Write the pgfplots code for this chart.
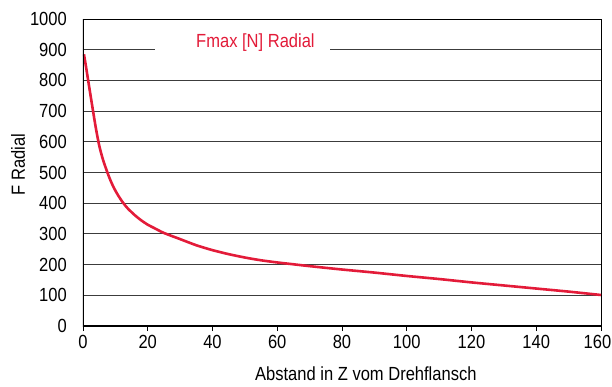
\documentclass[border=0pt]{standalone}
\usepackage{pgfplots}
\pgfplotsset{compat=1.18}
\usepackage{fontspec}
\setmainfont{Liberation Sans}[FakeStretch=0.87]
\definecolor{fred}{RGB}{227,27,57}
\definecolor{gridc}{RGB}{60,60,60}
\begin{document}
\begin{tikzpicture}
\begin{axis}[
  scale only axis,
  width=518bp, height=307bp,
  xmin=0, xmax=160, ymin=0, ymax=1000,
  xtick={0,20,...,160},
  xticklabels={0,20,40,60,80,100,120,140,\hspace*{-7bp}160},
  ytick={0,100,...,1000},
  /pgf/number format/assume math mode=true,
  /pgf/number format/1000 sep={},
  font=\fontsize{19bp}{22bp}\selectfont,
  tick label style={font=\fontsize{19bp}{22bp}\selectfont},
  ymajorgrids, grid style={gridc, line width=0.8bp},
  axis line style={black, line width=0.8bp},
  tick pos=left,
  tick align=outside, major tick length=5bp,
  xtick style={black, line width=0.8bp},
  ytick style={draw=none},
  yticklabel style={anchor=east, inner sep=0pt, xshift=-11bp},
  xticklabel style={anchor=north, inner sep=0pt, yshift=-4bp},
  xlabel={Abstand in Z vom Drehflansch},
  ylabel={F Radial},
  xlabel style={at={(rel axis cs:0.546,-0.156)}, anchor=center, inner sep=0pt},
  ylabel style={at={(rel axis cs:-0.1255,0.526)}, anchor=center, inner sep=0pt},
  legend style={at={(rel axis cs:0.139,0.926)}, anchor=west, draw=none, fill=white,
    inner xsep=0pt, inner ysep=3bp, font=\fontsize{19bp}{22bp}\selectfont,
    nodes={text=fred}},
]
\addplot[fred, line width=2.6bp, smooth, tension=0.4,
  legend image code/.code={\path[draw=none] (0bp,0bp) -- (39bp,0bp);}] coordinates {
(0.3,885) (1,840) (2,773) (3,707) (4,643) (5,588) (6,548) (7,516) (8,487)
(9,462) (10,441) (11,423) (12,407) (13,393) (14,381) (16,361) (18,344)
(20,330) (22,319) (25,303) (30,283) (35,263) (40,247) (45,234) (50,223)
(55,214) (60,207) (65,201) (70,195) (80,184) (90,174) (100,163) (110,153)
(120,142) (130,132) (140,122) (150,112) (160,101)
};
\addlegendentry{Fmax [N] Radial\hspace*{13bp}\null}
\draw[black, line width=2bp] (rel axis cs:0,1) -- (rel axis cs:0,0) -- (rel axis cs:1,0);
\end{axis}
\pgfresetboundingbox
\path[use as bounding box] (current axis.south west) ++(-83bp,-61bp) rectangle ++(612bp,387bp);
\end{tikzpicture}
\end{document}
